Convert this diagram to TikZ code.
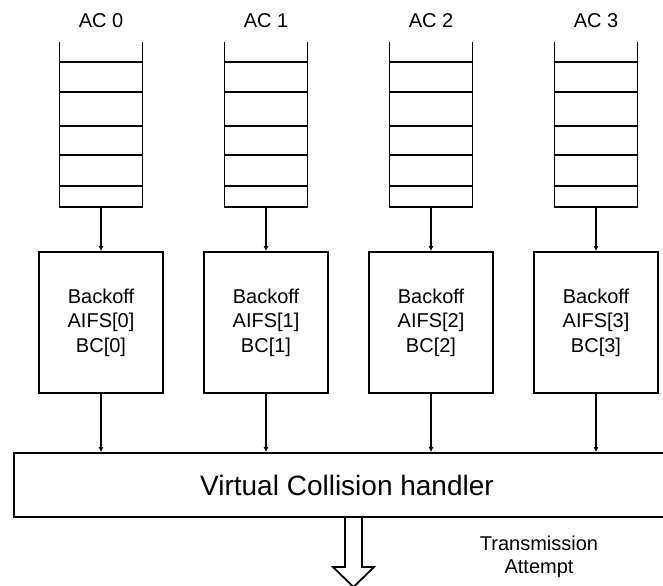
\documentclass[tikz,border=0pt]{standalone}
\usepackage{fontspec}
\setmainfont{Liberation Sans}
\usetikzlibrary{arrows.meta}

\begin{document}
\begin{tikzpicture}[x=0.5pt,y=-0.5pt,line width=0.9pt,>={Latex[length=2.5pt,width=2.5pt]},
  queue/.style={minimum width=41.5pt,minimum height=82.5pt,inner sep=0pt,outer sep=0pt},
  bobox/.style={draw,minimum width=62pt,minimum height=70.5pt,inner sep=0pt,align=center,
    font=\fontsize{10}{12.25}\selectfont},
  lbl/.style={font=\fontsize{10}{11.5}\selectfont,align=center}]
  \useasboundingbox (0,0) rectangle (663,585);
  \clip (0,0) rectangle (663,585);
  % handler across the whole width
  \node[draw,minimum width=333pt,minimum height=32pt,inner sep=0pt,
    font=\fontsize{14}{16}\selectfont] (vch) at (347,485) {Virtual Collision handler};
  \foreach \i in {0,...,3}{
    \pgfmathsetmacro\cx{101+165*\i}
    \node[queue] (q\i) at (\cx,124.5) {};
    \draw (q\i.north west) -- (q\i.south west) -- (q\i.south east) -- (q\i.north east);
    \foreach \yy in {62,92,126,155,186}
      \draw (\cx-41.5,\yy) -- (\cx+41.5,\yy);
    \node[lbl] (ac\i) at (\cx,21) {AC \i};
    \node[bobox] (b\i) at (\cx,322.5) {Backoff\\AIFS[\i]\\BC[\i]};
    \draw[->] (q\i) -- (b\i);
    \draw[->] (b\i) -- (b\i |- vch.north);
  }
  % hollow output arrow
  \draw (345,517) -- (345,567) -- (333,567) -- (353.5,587) -- (374,567) -- (362,567) -- (362,517);
  \node[lbl] (tx) at (539,556.5) {Transmission\\Attempt};
\end{tikzpicture}
\end{document}
